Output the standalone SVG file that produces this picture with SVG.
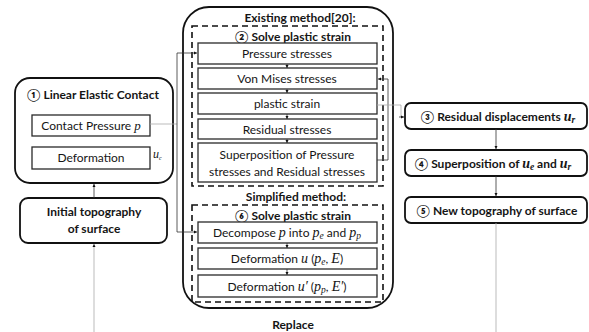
<svg xmlns="http://www.w3.org/2000/svg" width="589" height="332" viewBox="0 0 589 332">
<defs>
<style>
.t{font-family:Lato,"DejaVu Sans",sans-serif;fill:#151515;font-size:12px}
.b{font-weight:bold}
.c12{text-anchor:middle}
.m{font-family:"Liberation Serif","DejaVu Serif",serif;font-style:italic}
.box{fill:#fff;stroke:#2a2a2a;stroke-width:1.3}
.rb{fill:#fff;stroke:#111;stroke-width:1.8}
.dash{fill:none;stroke:#111;stroke-width:1.6;stroke-dasharray:6 4}
.c{fill:none;stroke:#333;stroke-width:0.8}
.g{fill:none;stroke:#aaa;stroke-width:0.8}
</style>
<marker id="ah" viewBox="0 0 6 6" refX="6" refY="3" markerWidth="4" markerHeight="4" orient="auto">
<path d="M0,0 L6,3 L0,6 Z" fill="#111"/>
</marker>
</defs>
<rect width="589" height="332" fill="#fff"/>

<g id="linear-elastic">
<rect class="rb" x="15" y="78" width="158" height="105" rx="15"/>
<text class="t b c12" x="93" y="99" font-size="12.8">① Linear Elastic Contact</text>
</g>
<g id="contact-pressure">
<rect class="box" x="32" y="115" width="118" height="21"/>
<text class="t c12" x="91" y="130" font-size="12.3">Contact Pressure <tspan class="m" font-size="13">p</tspan></text>
</g>
<g id="deformation">
<rect class="box" x="32" y="147" width="118" height="22"/>
<text class="t c12" x="91" y="162" font-size="12.3">Deformation</text>
<text class="t m" x="153" y="158" font-size="9">u<tspan font-size="6" dy="1.5">c</tspan></text>
</g>
<g id="initial-topography">
<rect class="rb" x="20" y="198" width="147" height="45" rx="8"/>
<text class="t b c12" x="94" y="216" font-size="12.8">Initial topography</text>
<text class="t b c12" x="94" y="233" font-size="12.8">of surface</text>
</g>

<g id="existing-method">
<rect class="rb" x="183" y="7" width="210" height="301" rx="26"/>
<text class="t b c12" x="300" y="22" font-size="12.3">Existing method[20]:</text>
<text class="t b c12" x="296" y="201" font-size="12.3">Simplified method:</text>
</g>
<g id="solve-plastic-2">
<rect class="dash" x="192" y="26" width="191" height="160"/>
<text class="t b c12" x="293" y="41" font-size="12.3">② Solve plastic strain</text>
</g>
<g id="pressure-stresses">
<rect class="box" x="198" y="43" width="179" height="21"/>
<text class="t c12" x="287" y="58">Pressure stresses</text>
</g>
<g id="von-mises">
<rect class="box" x="198" y="68" width="179" height="21"/>
<text class="t c12" x="287" y="83">Von Mises stresses</text>
</g>
<g id="plastic-strain">
<rect class="box" x="198" y="93" width="179" height="21"/>
<text class="t c12" x="287" y="108">plastic strain</text>
</g>
<g id="residual-stresses">
<rect class="box" x="198" y="119" width="179" height="20"/>
<text class="t c12" x="287" y="134">Residual stresses</text>
</g>
<g id="superposition-stresses">
<rect class="box" x="198" y="143" width="179" height="39"/>
<text class="t c12" x="287" y="159">Superposition of Pressure</text>
<text class="t c12" x="287" y="176">stresses and Residual stresses</text>
</g>

<g id="solve-plastic-6">
<rect class="dash" x="192" y="205" width="191" height="97"/>
<text class="t b c12" x="293" y="220" font-size="12.3">⑥ Solve plastic strain</text>
</g>
<g id="decompose">
<rect class="box" x="198" y="222" width="179" height="21"/>
<text class="t c12" x="287" y="237" font-size="13.3">Decompose <tspan class="m" font-size="14">p</tspan> into <tspan class="m" font-size="14">p<tspan font-size="9.5" dy="2">e</tspan></tspan><tspan dy="-2"> and  </tspan><tspan class="m" font-size="14">p<tspan font-size="9.5" dy="2">p</tspan></tspan></text>
</g>
<g id="deformation-u">
<rect class="box" x="198" y="248" width="179" height="21"/>
<text class="t c12" x="287" y="263" font-size="13.3">Deformation <tspan class="m" font-size="14">u</tspan> (<tspan class="m" font-size="14">p<tspan font-size="9.5" dy="2">e</tspan></tspan><tspan dy="-2">, </tspan><tspan class="m" font-size="14">E</tspan>)</text>
</g>
<g id="deformation-u-prime">
<rect class="box" x="198" y="275" width="179" height="22"/>
<text class="t c12" x="287" y="291" font-size="13.3">Deformation <tspan class="m" font-size="14">u′</tspan> (<tspan class="m" font-size="14">p<tspan font-size="9.5" dy="2">p</tspan></tspan><tspan dy="-2">, </tspan><tspan class="m" font-size="14">E′</tspan>)</text>
</g>

<g id="residual-displacements">
<rect class="rb" x="405" y="103" width="182" height="26" rx="6"/>
<text class="t b c12" x="498" y="121" font-size="13">③ Residual displacements <tspan class="m" font-size="14">u<tspan font-size="9.5" dy="2">r</tspan></tspan></text>
</g>
<g id="superposition-u">
<rect class="rb" x="405" y="150" width="182" height="26" rx="6"/>
<text class="t b c12" x="493" y="168" font-size="12">④ Superposition of <tspan class="m" font-size="14">u<tspan font-size="9.5" dy="2">e</tspan></tspan><tspan dy="-2"> and </tspan><tspan class="m" font-size="14">u<tspan font-size="9.5" dy="2">r</tspan></tspan></text>
</g>
<g id="new-topography">
<rect class="rb" x="405" y="197" width="182" height="26" rx="6"/>
<text class="t b c12" x="497" y="215" font-size="13">⑤ New topography of surface</text>
</g>

<g id="replace">
<text class="t b c12" x="293" y="329" font-size="13">Replace</text>
</g>

<g id="connectors">
<path class="c" d="M94,198 V184" marker-end="url(#ah)"/>
<path class="g" d="M94,332 V244" marker-end="url(#ah)"/>
<path class="g" d="M150,124 H177"/>
<path class="c" d="M177,53 V232"/>
<path class="c" d="M177,53 H197" marker-end="url(#ah)"/>
<path class="c" d="M177,232 H197" marker-end="url(#ah)"/>
<path class="c" d="M287,64 V68" marker-end="url(#ah)"/>
<path class="c" d="M287,89 V93" marker-end="url(#ah)"/>
<path class="c" d="M287,114 V119" marker-end="url(#ah)"/>
<path class="c" d="M287,139 V143" marker-end="url(#ah)"/>
<path class="c" d="M287,243 V248" marker-end="url(#ah)"/>
<path class="c" d="M287,269 V275" marker-end="url(#ah)"/>
<path class="c" d="M377,160 H388 V79 H378" marker-end="url(#ah)"/>
<path class="g" d="M377,105 H401 V117"/>
<path class="c" d="M399,117 H404" marker-end="url(#ah)"/>
<path class="c" d="M496,129 V149" marker-end="url(#ah)"/>
<path class="c" d="M496,176 V196" marker-end="url(#ah)"/>
<path class="g" d="M496,223 V332"/>
</g>
</svg>
